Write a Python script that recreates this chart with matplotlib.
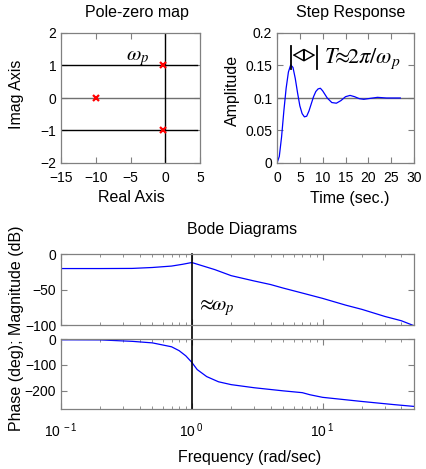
import numpy as np
import matplotlib
matplotlib.use("Agg")
import matplotlib.pyplot as plt

plt.rcParams["font.family"] = ["Liberation Sans", "DejaVu Sans"]
plt.rcParams["mathtext.fontset"] = "stix"

# poles
pole_re = [-0.3, -0.3, -10.0]
pole_im = [1.0, -1.0, 0.0]

# step response (time in sec., amplitude)
step_t = [0, 0.5, 1.0, 1.5, 2.0, 2.5, 3.0, 3.5, 4.0, 4.5, 5.0, 5.5, 6.0, 6.5,
          7.0, 7.5, 8.0, 8.5, 9.0, 9.5, 10, 11, 12, 13, 14, 15, 16, 17, 18,
          19, 20, 22, 24, 27]
step_amp = [0, 0.010, 0.040, 0.080, 0.115, 0.140, 0.151, 0.147, 0.130, 0.108,
            0.088, 0.076, 0.071, 0.072, 0.080, 0.091, 0.102, 0.110, 0.114,
            0.115, 0.111, 0.100, 0.093, 0.092, 0.096, 0.102, 0.104, 0.102,
            0.099, 0.098, 0.099, 0.101, 0.100, 0.100]

# bode magnitude
mag_freq = [0.1, 0.2, 0.35, 0.5, 0.7, 0.85, 1.0, 1.5, 2.0, 3.0, 4.0, 5.0,
            7.0, 10, 15, 20, 30, 40, 50]
mag_db = [-20.5, -20.5, -20.3, -19.0, -17.0, -14.5, -12.0, -22.0, -30.5,
          -38.0, -43.0, -48.0, -55.0, -62.5, -72.0, -78.0, -88.0, -94.0, -101.0]

# bode phase
phase_freq = [0.1, 0.2, 0.35, 0.5, 0.7, 0.8, 0.9, 1.0, 1.1, 1.3, 1.6, 2.0,
              3.0, 5.0, 7.0, 8.0, 10, 20, 35, 50]
phase_deg = [-3, -3.5, -9, -15, -30, -45, -65, -90, -118, -145, -165, -176,
             -188, -200, -207, -215, -225, -241, -253, -260]

W, H = 426, 469
fig = plt.figure(figsize=(W / 100, H / 100), dpi=100)


def box(l, t, r, b):
    return [l / W, 1 - b / H, (r - l) / W, (b - t) / H]


def style(ax):
    for s in ax.spines.values():
        s.set_color("#808080")
        s.set_linewidth(0.9)
    ax.tick_params(which="both", direction="in", top=True, right=True,
                   color="#808080", labelsize=10)
    ax.tick_params(which="major", length=4)
    ax.tick_params(which="minor", length=2.5)
    ax.tick_params(axis="x", pad=6)


# Pole-zero map
ax1 = fig.add_axes(box(61, 33, 200, 163))
style(ax1)
ax1.axhline(0, color="#707070", lw=1)
ax1.axvline(0, color="black", lw=1)
ax1.plot([-15, 4.5], [1, 1], color="black", lw=1)
ax1.plot([-15, 4.5], [-1, -1], color="black", lw=1)
ax1.plot(pole_re, pole_im, "x", color="red", ms=4.5, mew=1.6)
ax1.set_xlim(-15, 5)
ax1.set_ylim(-2, 2)
ax1.set_xticks([-15, -10, -5, 0, 5])
ax1.set_yticks([-2, -1, 0, 1, 2])
ax1.text(-4.0, 1.22, r"$\omega_p$", fontsize=15, ha="center", va="center")

# Step response
ax2 = fig.add_axes(box(277, 33, 414, 163))
style(ax2)
ax2.axhline(0.1, color="#707070", lw=1)
ax2.plot(step_t, step_amp, color="blue", lw=0.9)
ax2.set_xlim(0, 30)
ax2.set_ylim(0, 0.2)
ax2.set_xticks([0, 5, 10, 15, 20, 25, 30])
ax2.set_yticks([0, 0.05, 0.1, 0.15, 0.2])
ax2.set_yticklabels(["0", "0.05", "0.1", "0.15", "0.2"])
ax2.plot([3.1, 3.1], [0.145, 0.18], color="black", lw=1.3)
ax2.plot([8.7, 8.7], [0.145, 0.18], color="black", lw=1.3)
ax2.annotate("", xy=(3.4, 0.166), xytext=(8.4, 0.166),
             arrowprops=dict(arrowstyle="<|-|>,head_length=0.7,head_width=0.4",
                             fc="white", ec="black", lw=1, shrinkA=0, shrinkB=0))
ax2.text(10.3, 0.161, r"$T\!\!\approx\!\!2\pi/\omega_p$", fontsize=16,
         ha="left", va="center")

# Bode magnitude
ax3 = fig.add_axes(box(61, 254, 414, 325))
style(ax3)
ax3.semilogx(mag_freq, mag_db, color="blue", lw=0.9)
ax3.set_xlim(0.1, 50)
ax3.set_ylim(-100, 0)
ax3.set_yticks([0, -50, -100])
ax3.set_xticks([0.1, 1, 10])
ax3.set_xticklabels([])
ax3.plot([1, 1], [0, -120], color="black", lw=1.2, clip_on=False)
ax3.text(1.08, -75, r"$\approx\!\!\omega_p$", fontsize=15, ha="left", va="center")

# Bode phase
ax4 = fig.add_axes(box(61, 339, 414, 409))
style(ax4)
ax4.semilogx(phase_freq, phase_deg, color="blue", lw=0.9)
ax4.axvline(1, color="black", lw=1.2)
ax4.set_xlim(0.1, 50)
ax4.set_ylim(-270, 0)
ax4.set_yticks([0, -100, -200])
ax4.set_xticks([0.1, 1, 10])
ax4.set_xticklabels([r"$\mathregular{10^{\ -1}}$", r"$\mathregular{10^{\ 0}}$",
                     r"$\mathregular{10^{\ 1}}$"])
ax4.tick_params(axis="x", pad=9)

# titles and labels
fig.text(137 / W, 1 - 13 / H, "Pole-zero map", fontsize=11.5, ha="center", va="center")
fig.text(351 / W, 1 - 13 / H, "Step Response", fontsize=11.5, ha="center", va="center")
fig.text(242 / W, 1 - 229 / H, "Bode Diagrams", fontsize=11.5, ha="center", va="center")
fig.text(131 / W, 1 - 198 / H, "Real Axis", fontsize=11.5, ha="center", va="center")
fig.text(350 / W, 1 - 198 / H, "Time (sec.)", fontsize=11.5, ha="center", va="center")
fig.text(250 / W, 1 - 457 / H, "Frequency (rad/sec)", fontsize=11.5, ha="center", va="center")
fig.text(17 / W, 1 - 94 / H, "Imag Axis", fontsize=11.5, ha="center", va="center", rotation=90)
fig.text(232 / W, 1 - 90 / H, "Amplitude", fontsize=11.5, ha="center", va="center", rotation=90)
fig.text(17 / W, 1 - 328 / H, "Phase (deg); Magnitude (dB)", fontsize=11.5,
         ha="center", va="center", rotation=90)

fig.savefig("out.png", dpi=100)
